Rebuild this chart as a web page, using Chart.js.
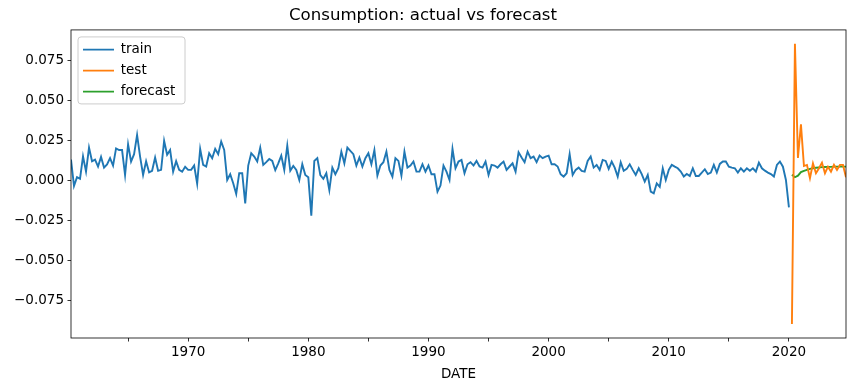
<!DOCTYPE html>
<html>
<head>
<meta charset="utf-8">
<script src="https://cdn.jsdelivr.net/npm/chart.js@4"></script>
<style>html,body{margin:0;background:#fff}</style>
</head>
<body>
<canvas id="chart" width="856" height="391"></canvas>
<script>
// quarterly series, dates as fractional years (1960Q2 = 1960.25)
const trainStart = 1960.25;
const testStart = 2020.25;

const train = [
  0.013, -0.0035, 0.002, 0.001, 0.015, 0.0055, 0.0205, 0.012, 0.013, 0.0087,
  0.0147, 0.008, 0.010, 0.0139, 0.0093, 0.020, 0.019, 0.019, 0.0034, 0.0226,
  0.0118, 0.0164, 0.0284, 0.0149, 0.0034, 0.012, 0.005, 0.006, 0.0143, 0.006,
  0.0066, 0.0247, 0.016, 0.019, 0.0055, 0.012, 0.0066, 0.0055, 0.0085, 0.0066,
  0.0066, 0.0093, -0.002, 0.0197, 0.0097, 0.0087, 0.017, 0.0139, 0.0197, 0.0164,
  0.0243, 0.019, 0.0003, 0.0039, -0.0018, -0.0084, 0.0045, 0.0045, -0.0143, 0.0093,
  0.017, 0.0149, 0.0118, 0.0205, 0.0097, 0.0114, 0.0134, 0.0122, 0.0064, 0.0107,
  0.0155, 0.0066, 0.0218, 0.006, 0.009, 0.0066, 0.0003, 0.0101, 0.0034, 0.002,
  -0.022, 0.0122, 0.0139, 0.0034, 0.001, 0.0045, -0.006, 0.008, 0.0039, 0.0076,
  0.018, 0.0107, 0.0205, 0.0184, 0.0164, 0.0093, 0.0143, 0.0087, 0.0139, 0.017,
  0.0101, 0.019, 0.003, 0.0093, 0.0114, 0.018, 0.0066, 0.0024, 0.0139, 0.0122,
  0.003, 0.018, 0.008, 0.0093, 0.0118, 0.0055, 0.0055, 0.0101, 0.0055,
  0.0093, 0.0039, 0.0039, -0.007, -0.0032, 0.0093, 0.0055, 0.0003, 0.0197, 0.0076,
  0.0118, 0.0128, 0.0045, 0.0101, 0.0114, 0.0093, 0.0122, 0.0087, 0.008, 0.0118,
  0.0034, 0.0097, 0.0093, 0.008, 0.0101, 0.0118, 0.0066, 0.0087, 0.0107, 0.0055,
  0.0176, 0.0143, 0.0114, 0.018, 0.0139, 0.0149, 0.0114, 0.0155, 0.0139,
  0.0149, 0.0155, 0.0101, 0.0101, 0.0087, 0.0039, 0.0024, 0.0045, 0.0164, 0.0034,
  0.0066, 0.008, 0.006, 0.0055, 0.0122, 0.0149, 0.008, 0.0097, 0.0066, 0.0128,
  0.0122, 0.0072, 0.0118, 0.008, 0.0024, 0.0114, 0.006, 0.0072, 0.0101, 0.0066,
  0.0034, 0.0076, 0.0039, -0.0007, 0.0034, -0.007, -0.008, -0.0018, -0.004, 0.0076,
  0.0003, 0.0066, 0.0097, 0.0086, 0.0076, 0.0055, 0.0024, 0.004, 0.0028, 0.0076,
  0.0028, 0.0028, 0.0049, 0.007, 0.004, 0.0049, 0.0097, 0.0049, 0.0103, 0.0118,
  0.0118, 0.0086, 0.008, 0.0076, 0.0049, 0.0076, 0.0055, 0.0076, 0.0061, 0.0076,
  0.0055, 0.0111, 0.0076, 0.0061, 0.0049, 0.004, 0.0024, 0.0097, 0.0118, 0.0086,
  0.0003, -0.0168
];

const test = [
  -0.0897, 0.0853, 0.014, 0.035, 0.009, 0.0097, 0.0014, 0.0107, 0.0045, 0.0076,
  0.0111, 0.0045, 0.0086, 0.0055, 0.0097, 0.0066, 0.0097, 0.0097, 0.002
];

const forecast = [
  0.0035, 0.002, 0.003, 0.0052, 0.006, 0.0066, 0.0072, 0.0076, 0.0079, 0.0081,
  0.0083, 0.0084, 0.0085, 0.0085, 0.0086, 0.0086, 0.0086, 0.0086, 0.0086
];

const yTicks = [-0.075, -0.05, -0.025, 0, 0.025, 0.05, 0.075];
const xTicks = [1965, 1970, 1975, 1980, 1985, 1990, 1995, 2000, 2005, 2010, 2015, 2020];

function toPoints(start, values) {
  return values.map((v, i) => ({x: start + i * 0.25, y: v}));
}

Chart.defaults.font.family = 'DejaVu Sans';
Chart.defaults.color = '#000';

const framePlugin = {
  id: 'frame',
  afterLayout(chart) {
    const lg = chart.legend;
    lg.left = chart.chartArea.left + 4.5;
    lg.top = chart.chartArea.top + 5.5;
  },
  beforeDraw(chart) {
    // legend box, drawn under the legend items
    const {ctx, chartArea: a} = chart;
    ctx.save();
    ctx.beginPath();
    ctx.roundRect(a.left + 7, a.top + 7, 107, 67, 3);
    ctx.fillStyle = 'rgba(255,255,255,0.8)';
    ctx.fill();
    ctx.strokeStyle = '#cccccc';
    ctx.lineWidth = 1;
    ctx.stroke();
    ctx.restore();
  },
  afterDraw(chart) {
    const {ctx, chartArea: a} = chart;
    ctx.save();
    ctx.strokeStyle = '#000';
    ctx.lineWidth = 0.8;
    ctx.strokeRect(a.left, a.top, a.right - a.left, a.bottom - a.top);
    ctx.restore();
  }
};

new Chart(document.getElementById('chart'), {
  type: 'line',
  data: {
    datasets: [
      {label: 'train', data: toPoints(trainStart, train), borderColor: '#1f77b4', backgroundColor: '#1f77b4', borderWidth: 1.9},
      {label: 'test', data: toPoints(testStart, test), borderColor: '#ff7f0e', backgroundColor: '#ff7f0e', borderWidth: 1.9},
      {label: 'forecast', data: toPoints(testStart, forecast), borderColor: '#2ca02c', backgroundColor: '#2ca02c', borderWidth: 1.9}
    ]
  },
  options: {
    responsive: false,
    animation: false,
    devicePixelRatio: 1,
    layout: {padding: {left: 0, right: 10, top: 0, bottom: 0}},
    elements: {
      line: {tension: 0},
      point: {radius: 0}
    },
    scales: {
      x: {
        type: 'linear',
        min: trainStart,
        max: testStart + (test.length - 1) * 0.25,
        afterBuildTicks: (scale) => { scale.ticks = xTicks.map(v => ({value: v})); },
        afterFit: (scale) => { scale.height = 53; },
        ticks: {
          autoSkip: false,
          maxRotation: 0,
          padding: 2.5,
          font: {size: 13.5},
          callback: (v) => (v % 10 === 0 ? String(v) : '')
        },
        grid: {drawOnChartArea: false, tickLength: 3.5, color: '#000', lineWidth: 0.8},
        border: {display: false},
        title: {display: true, text: 'DATE', font: {size: 13.5}, padding: {top: 0, bottom: 8}}
      },
      y: {
        min: -0.0984,
        max: 0.094,
        afterBuildTicks: (scale) => { scale.ticks = yTicks.map(v => ({value: v})); },
        afterFit: (scale) => { scale.width = 71; },
        ticks: {
          padding: 3.5,
          font: {size: 13.5},
          callback: (v) => v.toFixed(3).replace('-', '\u2212')
        },
        grid: {drawOnChartArea: false, tickLength: 3.5, color: '#000', lineWidth: 0.8},
        border: {display: false}
      }
    },
    plugins: {
      title: {
        display: true,
        text: 'Consumption: actual vs forecast',
        font: {size: 16.6, weight: 'normal'},
        color: '#000',
        padding: {top: 6, bottom: 4}
      },
      legend: {
        position: 'chartArea',
        align: 'start',
        labels: {
          usePointStyle: true,
          pointStyle: 'line',
          pointStyleWidth: 31,
          padding: 7.5,
          font: {size: 13.5},
          color: '#000'
        }
      },
      tooltip: {enabled: false}
    }
  },
  plugins: [framePlugin]
});
</script>
</body>
</html>
